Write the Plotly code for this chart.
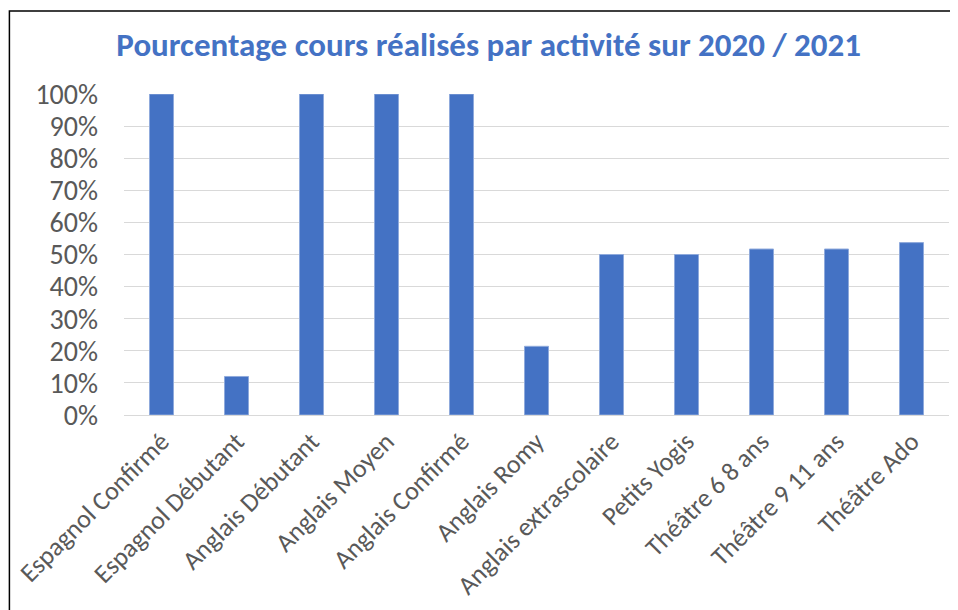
import plotly.graph_objects as go

activites = [
    "Espagnol Confirmé", "Espagnol Débutant", "Anglais Débutant", "Anglais Moyen",
    "Anglais Confirmé", "Anglais Romy", "Anglais extrascolaire", "Petits Yogis",
    "Théâtre 6 8 ans", "Théâtre 9 11 ans", "Théâtre Ado",
]
pourcentages = [1.00, 0.12, 1.00, 1.00, 1.00, 0.214, 0.50, 0.50, 0.517, 0.517, 0.537]
y_ticks = [0, 0.1, 0.2, 0.3, 0.4, 0.5, 0.6, 0.7, 0.8, 0.9, 1.0]

FONT = "Calibri, Carlito, 'Liberation Sans Narrow', 'Open Sans', sans-serif"
BLUE = "#4472C4"

fig = go.Figure(go.Bar(
    x=activites, y=pourcentages,
    marker=dict(color=BLUE, line=dict(color="#8FAADC", width=1)),
))

# page body has an 8px margin, so the figure is sized/offset to fit the window
fig.update_layout(
    width=950, height=602,
    margin=dict(l=115.5, r=8.5, t=86, b=195),
    plot_bgcolor="white", paper_bgcolor="white",
    bargap=0.68,
    showlegend=False,
    title=dict(
        text="<b>Pourcentage cours réalisés par activité sur 2020 / 2021</b>",
        x=0.506, xanchor="center", y=0.94, yanchor="middle",
        font=dict(family=FONT, size=33, color=BLUE),
    ),
    font=dict(family=FONT, color="#595959"),
)
fig.update_yaxes(
    range=[0, 1.0], tickvals=y_ticks, tickformat=".0%",
    tickfont=dict(size=28, color="#595959"),
    showgrid=True, gridcolor="#D9D9D9", gridwidth=1,
    zeroline=False, showline=False, ticks="", ticklabelstandoff=25,
    automargin=False,
)
fig.update_xaxes(
    tickangle=-45, tickfont=dict(size=26, color="#595959"),
    showline=True, linecolor="#D9D9D9", linewidth=1, ticks="",
    automargin=False,
)

# chart frame
fig.add_shape(type="rect", xref="paper", yref="paper",
              x0=-0.1389, x1=1.0042, y0=-0.617, y1=1.2586,
              line=dict(color="black", width=1.5), fillcolor="rgba(0,0,0,0)")

fig.write_html("out.html")
